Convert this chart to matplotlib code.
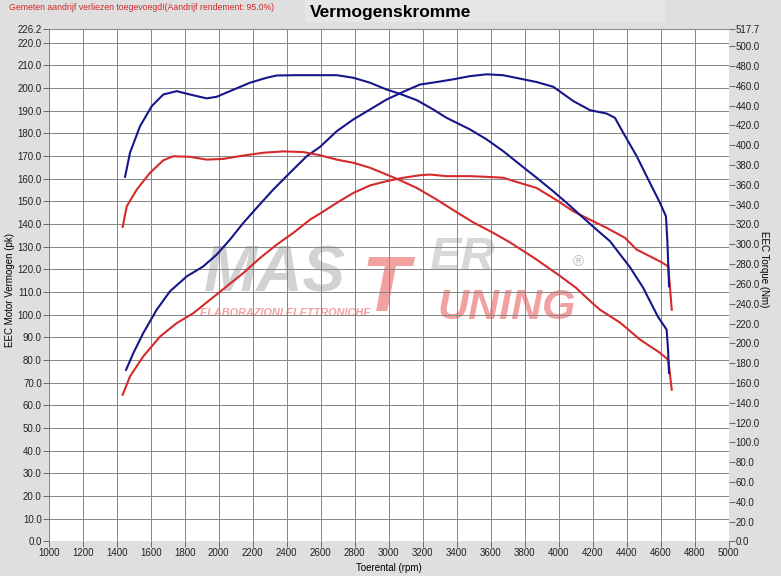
import matplotlib
matplotlib.use("Agg")
import matplotlib.pyplot as plt
from matplotlib.patches import Rectangle
import numpy as np

plt.rcParams['font.family'] = ['Liberation Sans', 'DejaVu Sans']

# Vermogen (pk), blauw = getuned, rood = standaard
rpm_pwr_blue = [1455, 1498, 1556, 1635, 1713, 1812, 1909, 1988, 2066, 2145, 2223, 2321, 2419, 2518,
                2596, 2694, 2792, 2890, 2988, 3086, 3184, 3282, 3380, 3478, 3576, 3674, 3772, 3870,
                3968, 4086, 4184, 4282, 4331, 4380, 4459, 4537, 4596, 4631, 4639, 4645, 4649]
pwr_blue = [75.7, 83.1, 91.9, 102.2, 110.3, 116.9, 121.3, 126.5, 133.1, 140.5, 147.1, 155.2, 162.6, 169.9,
            174.0, 180.9, 186.1, 190.5, 194.9, 198.3, 201.5, 202.6, 203.8, 205.2, 206.0, 205.6, 204.1, 202.6,
            200.5, 194.2, 190.2, 188.7, 186.8, 180.2, 169.9, 158.1, 149.3, 143.4, 133.1, 121.3, 112.5]

rpm_pwr_red = [1435, 1478, 1556, 1655, 1753, 1851, 1949, 2047, 2145, 2243, 2341, 2439, 2537, 2596,
               2694, 2792, 2890, 2988, 3086, 3184, 3243, 3341, 3478, 3576, 3674, 3772, 3870, 3988,
               4086, 4184, 4282, 4390, 4459, 4596, 4645, 4665]
pwr_red = [64.7, 72.8, 81.6, 90.4, 96.3, 100.7, 106.6, 112.5, 118.4, 125.0, 130.9, 136.1, 141.9, 144.6,
           149.3, 153.7, 157.0, 158.9, 160.4, 161.5, 161.8, 161.1, 161.1, 160.8, 160.4, 158.1, 155.9, 150.5,
           145.6, 141.9, 138.3, 133.9, 128.7, 123.5, 121.3, 102.2]

# Koppel (Nm)
rpm_trq_blue = [1449, 1478, 1537, 1606, 1674, 1753, 1831, 1929, 1988, 2066, 2184, 2282, 2341, 2450,
                2576, 2694, 2792, 2890, 2988, 3066, 3165, 3262, 3341, 3478, 3576, 3674, 3772, 3870,
                3968, 4047, 4145, 4223, 4302, 4360, 4419, 4496, 4584, 4635, 4643, 4649]
trq_blue = [368.0, 392.3, 419.1, 439.4, 451.1, 454.5, 451.1, 447.2, 448.8, 454.5, 463.0, 468.0, 470.3, 470.6,
            470.6, 470.6, 468.0, 463.0, 456.1, 451.8, 445.4, 436.0, 427.5, 415.9, 405.8, 393.9, 380.4, 367.1,
            353.4, 341.7, 326.6, 314.7, 303.0, 290.0, 276.9, 256.3, 226.8, 213.8, 194.5, 170.1]

rpm_trq_red = [1435, 1459, 1518, 1596, 1674, 1733, 1831, 1929, 2027, 2145, 2262, 2380, 2498, 2596,
               2694, 2792, 2890, 2988, 3066, 3165, 3282, 3400, 3498, 3615, 3713, 3811, 3870, 4000,
               4100, 4200, 4243, 4361, 4479, 4596, 4645, 4665]
trq_red = [317.4, 338.3, 355.2, 372.1, 384.7, 388.8, 388.2, 385.4, 386.1, 389.5, 392.3, 393.7, 393.0, 389.8,
           385.4, 382.2, 377.2, 370.3, 364.6, 356.8, 345.1, 332.3, 322.0, 311.5, 301.9, 291.1, 284.5, 268.9,
           256.3, 240.3, 233.9, 220.9, 203.7, 190.4, 183.3, 153.1]

x_ticks = list(range(1000, 5001, 200))
pk_ticks = list(range(0, 221, 10)) + [226.2]
nm_ticks = list(range(0, 501, 20)) + [517.7]

blue = '#16168a'
red = '#d42a2a'
bg = '#dfdfdf'

fig = plt.figure(figsize=(7.81, 5.76), dpi=100, facecolor=bg)
fig.patches.append(Rectangle((0.39, 0.962), 0.462, 0.038, transform=fig.transFigure,
                             facecolor='#e7e5e8', edgecolor='none'))
ax = fig.add_axes([0.0624, 0.0599, 0.8706, 0.8906])
ax2 = ax.twinx()

ax.set_xlim(1000, 5000)
ax.set_ylim(0, 226.2)
ax2.set_ylim(0, 517.7)

ax.set_xticks(x_ticks)
ax.set_xticklabels([str(t) for t in x_ticks])
ax.set_yticks(pk_ticks)
ax.set_yticklabels(['%.1f' % t for t in pk_ticks])
ax2.set_yticks(nm_ticks)
ax2.set_yticklabels(['%.1f' % t for t in nm_ticks])

ax.set_axisbelow(True)
ax.grid(True, color='#858585', linewidth=0.7)
for a in (ax, ax2):
    for s in a.spines.values():
        s.set_visible(False)
ax.tick_params(axis='both', labelsize=7, length=4, width=0.6, color='#555555', pad=1, labelcolor='#222222')
ax2.tick_params(axis='y', labelsize=7, length=4, width=0.6, color='#555555', pad=1, labelcolor='#222222')

ax.plot(rpm_pwr_red, pwr_red, color=red, lw=1.5, zorder=3)
ax.plot(rpm_pwr_blue, pwr_blue, color=blue, lw=1.5, zorder=3)
ax2.plot(rpm_trq_red, trq_red, color=red, lw=1.5, zorder=3)
ax2.plot(rpm_trq_blue, trq_blue, color=blue, lw=1.5, zorder=3)

ax.set_xlabel('Toerental (rpm)', fontsize=7, labelpad=3)
ax.set_ylabel('EEC Motor Vermogen (pk)', fontsize=7)
ax.yaxis.set_label_coords(-0.05, 0.49)
ax2.set_ylabel('EEC Torque (Nm)', fontsize=7, rotation=270)
ax2.yaxis.set_label_coords(1.06, 0.53)

# watermerk
wm = dict(transform=ax.transAxes, fontweight='bold', style='italic', zorder=0.2)
ax.text(0.228, 0.52, 'MAS', fontsize=46, color='#d2d2d2', va='center', ha='left', **wm)
ax.text(0.46, 0.49, 'T', fontsize=56, color='#f2a0a0', va='center', ha='left', **wm)
ax.text(0.56, 0.553, 'ER', fontsize=34, color='#d8d8d8', va='center', ha='left', **wm)
ax.text(0.572, 0.455, 'UNING', fontsize=31, color='#f2a0a0', va='center', ha='left', **wm)
ax.text(0.222, 0.445, 'ELABORAZIONI ELETTRONICHE', fontsize=7.8, color='#f2a0a0', va='center', ha='left', **wm)
ax.text(0.77, 0.545, '\u00ae', fontsize=11, color='#bdbdbd', va='center', ha='left',
        transform=ax.transAxes, zorder=0.2)

fig.text(0.5, 0.979, 'Vermogenskromme', fontsize=12.5, fontweight='bold', ha='center', va='center')
fig.text(0.012, 0.987, 'Gemeten aandrijf verliezen toegevoegd!(Aandrijf rendement: 95.0%)',
         fontsize=6.3, color='#d02828', ha='left', va='center')

fig.savefig('out.png', dpi=100, facecolor=bg)
